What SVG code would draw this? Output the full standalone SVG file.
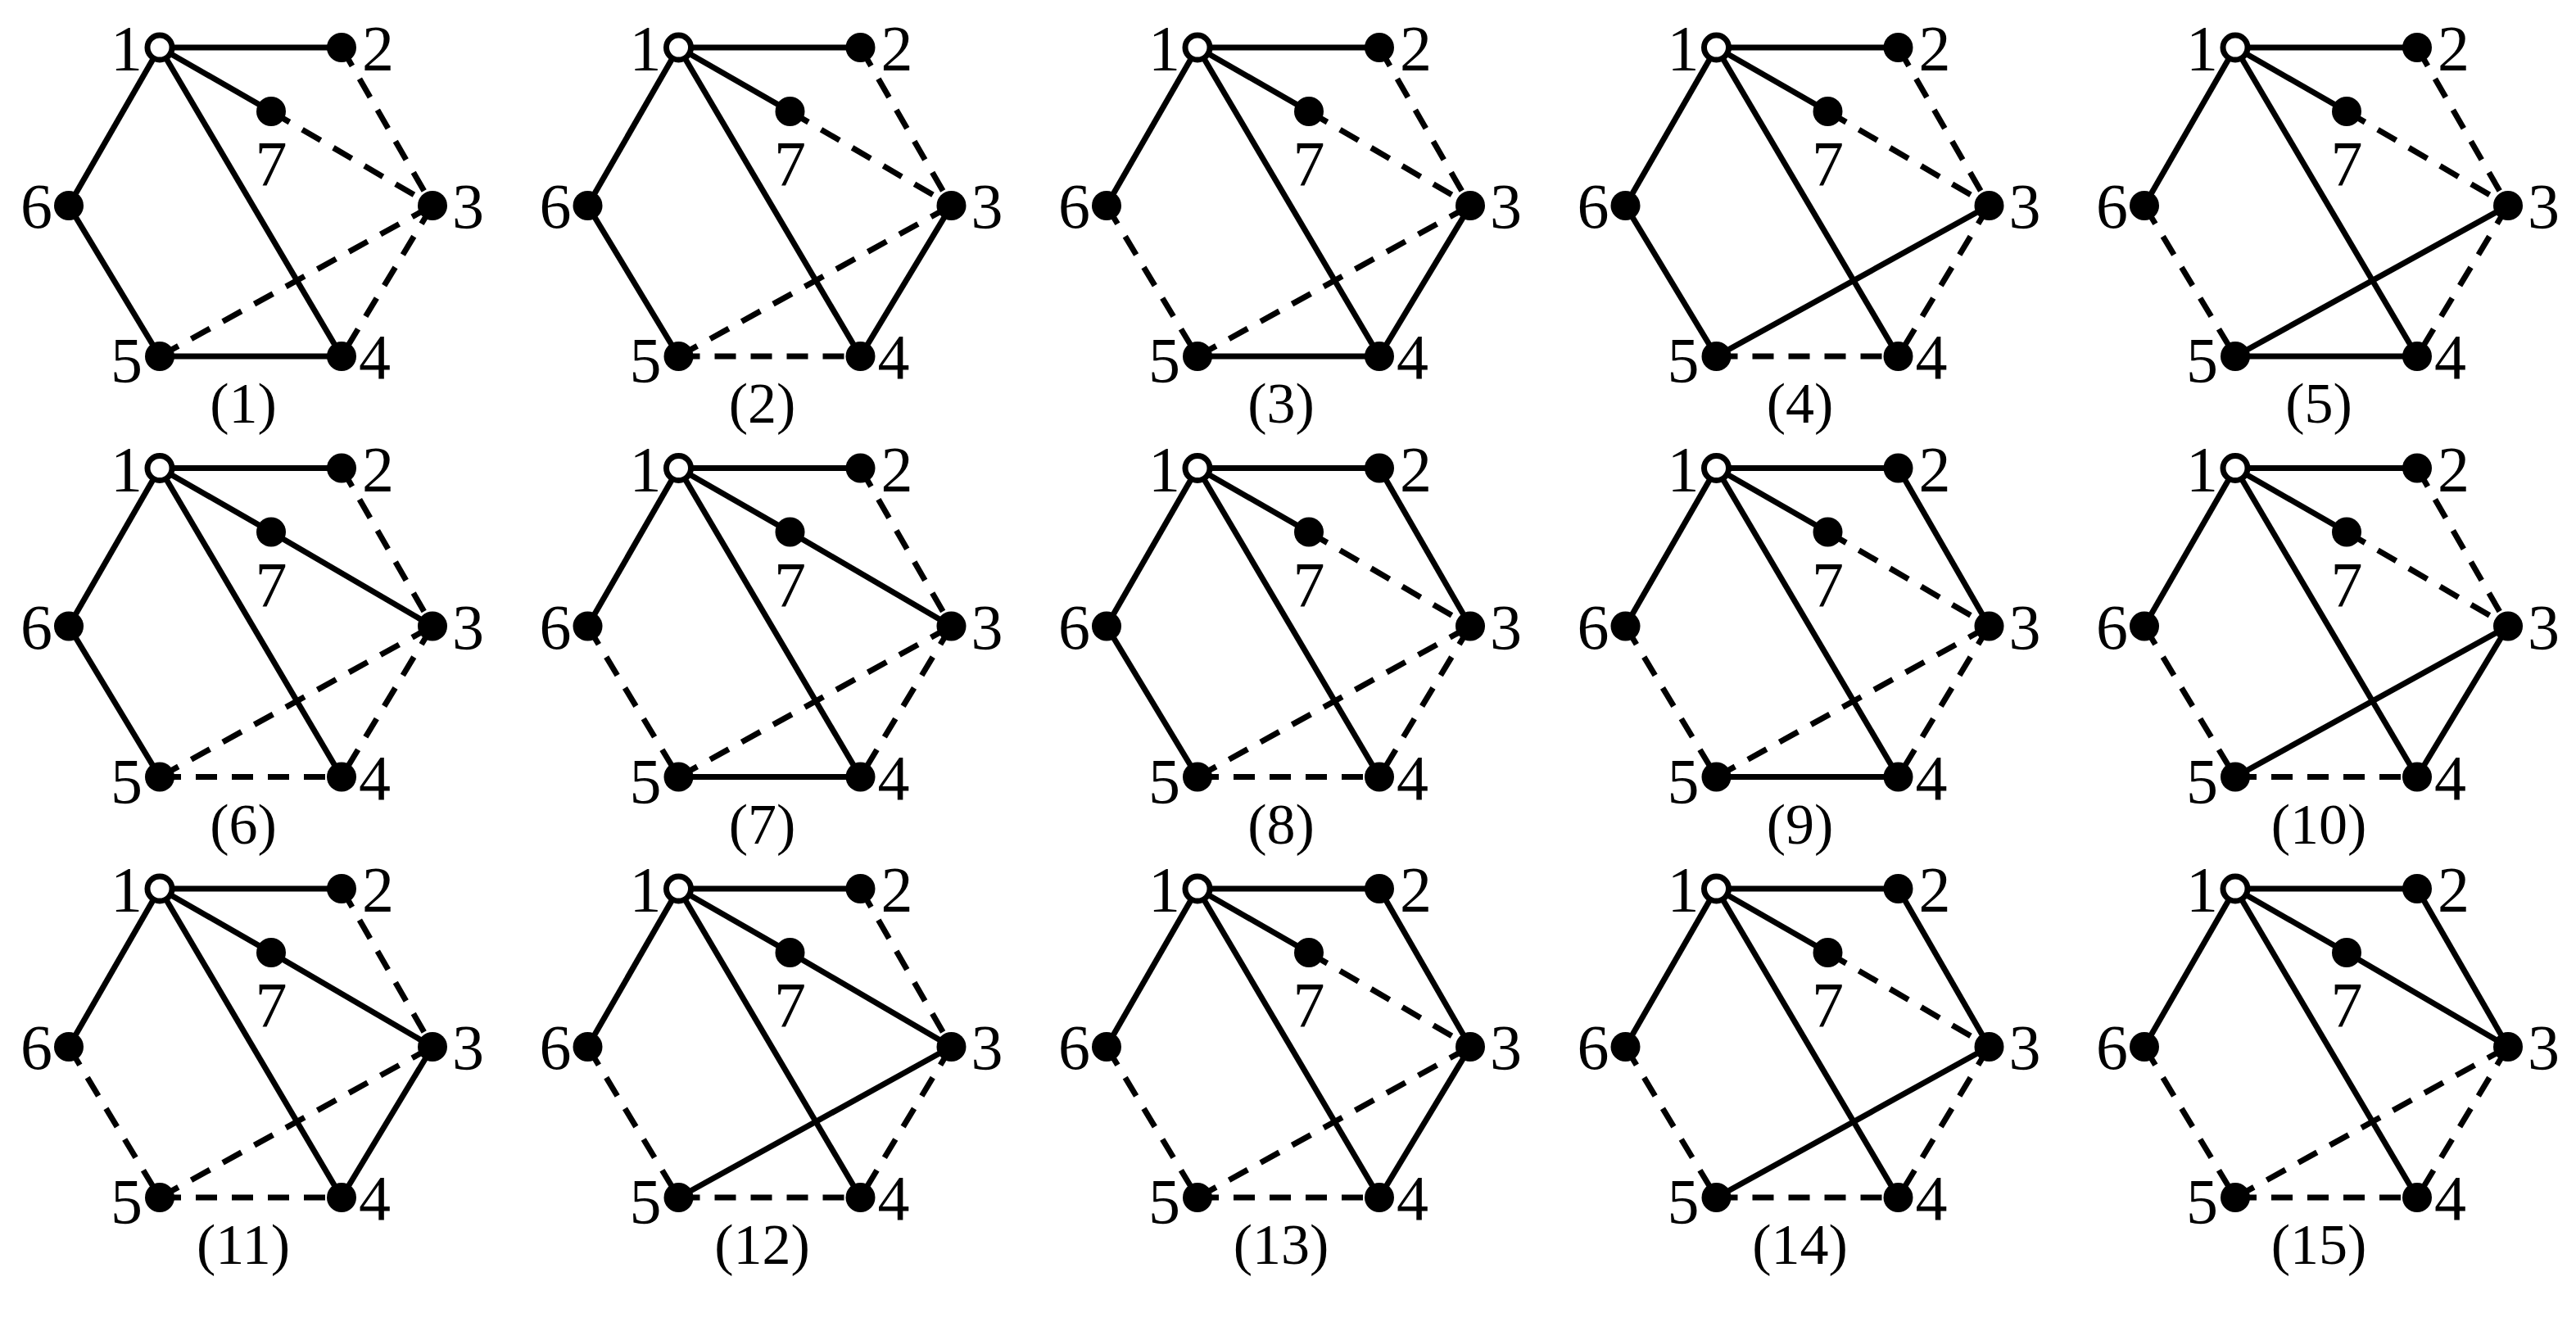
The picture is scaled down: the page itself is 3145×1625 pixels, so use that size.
<svg xmlns="http://www.w3.org/2000/svg" width="3145" height="1625" viewBox="0 0 3145 1625">
<style>
.s{stroke:#000;stroke-width:7;fill:none}
.d{stroke:#000;stroke-width:7;fill:none;stroke-dasharray:26 18}
.n{fill:#000}
.o{fill:#fff;stroke:#000;stroke-width:7}
text{font-family:"Liberation Serif","Times New Roman",serif;font-size:78px;fill:#000}
.c{font-size:70px;text-anchor:middle}
</style>
<defs>
<g id="nodes">
<circle class="o" cx="195" cy="58" r="15"/>
<circle class="n" cx="417" cy="58" r="18"/>
<circle class="n" cx="331" cy="136" r="18"/>
<circle class="n" cx="528" cy="251" r="18"/>
<circle class="n" cx="84" cy="251" r="18"/>
<circle class="n" cx="195" cy="435" r="18"/>
<circle class="n" cx="417" cy="435" r="18"/>
<text x="174" y="85" text-anchor="end">1</text>
<text x="442" y="85">2</text>
<text x="552" y="278">3</text>
<text x="438" y="462">4</text>
<text x="174" y="466" text-anchor="end">5</text>
<text x="64" y="278" text-anchor="end">6</text>
<text x="331" y="226" text-anchor="middle">7</text>
</g>
<g id="fixed">
<line class="s" x1="195" y1="58" x2="417" y2="58"/>
<line class="s" x1="195" y1="58" x2="331" y2="136"/>
<line class="s" x1="195" y1="58" x2="84" y2="251"/>
<line class="s" x1="195" y1="58" x2="417" y2="435"/>
</g>
</defs>
<g id="connectors">
<g transform="translate(0,0)"><use href="#fixed"/><line class="d" x1="417" y1="58" x2="528" y2="251"/><line class="d" x1="331" y1="136" x2="528" y2="251"/><line class="s" x1="84" y1="251" x2="195" y2="435"/><line class="s" x1="195" y1="435" x2="417" y2="435"/><line class="d" x1="195" y1="435" x2="528" y2="251"/><line class="d" x1="528" y1="251" x2="417" y2="435"/></g>
<g transform="translate(633.5,0)"><use href="#fixed"/><line class="d" x1="417" y1="58" x2="528" y2="251"/><line class="d" x1="331" y1="136" x2="528" y2="251"/><line class="s" x1="84" y1="251" x2="195" y2="435"/><line class="d" x1="195" y1="435" x2="417" y2="435"/><line class="d" x1="195" y1="435" x2="528" y2="251"/><line class="s" x1="528" y1="251" x2="417" y2="435"/></g>
<g transform="translate(1267,0)"><use href="#fixed"/><line class="d" x1="417" y1="58" x2="528" y2="251"/><line class="d" x1="331" y1="136" x2="528" y2="251"/><line class="d" x1="84" y1="251" x2="195" y2="435"/><line class="s" x1="195" y1="435" x2="417" y2="435"/><line class="d" x1="195" y1="435" x2="528" y2="251"/><line class="s" x1="528" y1="251" x2="417" y2="435"/></g>
<g transform="translate(1900.5,0)"><use href="#fixed"/><line class="d" x1="417" y1="58" x2="528" y2="251"/><line class="d" x1="331" y1="136" x2="528" y2="251"/><line class="s" x1="84" y1="251" x2="195" y2="435"/><line class="d" x1="195" y1="435" x2="417" y2="435"/><line class="s" x1="195" y1="435" x2="528" y2="251"/><line class="d" x1="528" y1="251" x2="417" y2="435"/></g>
<g transform="translate(2534,0)"><use href="#fixed"/><line class="d" x1="417" y1="58" x2="528" y2="251"/><line class="d" x1="331" y1="136" x2="528" y2="251"/><line class="d" x1="84" y1="251" x2="195" y2="435"/><line class="s" x1="195" y1="435" x2="417" y2="435"/><line class="s" x1="195" y1="435" x2="528" y2="251"/><line class="d" x1="528" y1="251" x2="417" y2="435"/></g>
<g transform="translate(0,513.5)"><use href="#fixed"/><line class="d" x1="417" y1="58" x2="528" y2="251"/><line class="s" x1="331" y1="136" x2="528" y2="251"/><line class="s" x1="84" y1="251" x2="195" y2="435"/><line class="d" x1="195" y1="435" x2="417" y2="435"/><line class="d" x1="195" y1="435" x2="528" y2="251"/><line class="d" x1="528" y1="251" x2="417" y2="435"/></g>
<g transform="translate(633.5,513.5)"><use href="#fixed"/><line class="d" x1="417" y1="58" x2="528" y2="251"/><line class="s" x1="331" y1="136" x2="528" y2="251"/><line class="d" x1="84" y1="251" x2="195" y2="435"/><line class="s" x1="195" y1="435" x2="417" y2="435"/><line class="d" x1="195" y1="435" x2="528" y2="251"/><line class="d" x1="528" y1="251" x2="417" y2="435"/></g>
<g transform="translate(1267,513.5)"><use href="#fixed"/><line class="s" x1="417" y1="58" x2="528" y2="251"/><line class="d" x1="331" y1="136" x2="528" y2="251"/><line class="s" x1="84" y1="251" x2="195" y2="435"/><line class="d" x1="195" y1="435" x2="417" y2="435"/><line class="d" x1="195" y1="435" x2="528" y2="251"/><line class="d" x1="528" y1="251" x2="417" y2="435"/></g>
<g transform="translate(1900.5,513.5)"><use href="#fixed"/><line class="s" x1="417" y1="58" x2="528" y2="251"/><line class="d" x1="331" y1="136" x2="528" y2="251"/><line class="d" x1="84" y1="251" x2="195" y2="435"/><line class="s" x1="195" y1="435" x2="417" y2="435"/><line class="d" x1="195" y1="435" x2="528" y2="251"/><line class="d" x1="528" y1="251" x2="417" y2="435"/></g>
<g transform="translate(2534,513.5)"><use href="#fixed"/><line class="d" x1="417" y1="58" x2="528" y2="251"/><line class="d" x1="331" y1="136" x2="528" y2="251"/><line class="d" x1="84" y1="251" x2="195" y2="435"/><line class="d" x1="195" y1="435" x2="417" y2="435"/><line class="s" x1="195" y1="435" x2="528" y2="251"/><line class="s" x1="528" y1="251" x2="417" y2="435"/></g>
<g transform="translate(0,1027)"><use href="#fixed"/><line class="d" x1="417" y1="58" x2="528" y2="251"/><line class="s" x1="331" y1="136" x2="528" y2="251"/><line class="d" x1="84" y1="251" x2="195" y2="435"/><line class="d" x1="195" y1="435" x2="417" y2="435"/><line class="d" x1="195" y1="435" x2="528" y2="251"/><line class="s" x1="528" y1="251" x2="417" y2="435"/></g>
<g transform="translate(633.5,1027)"><use href="#fixed"/><line class="d" x1="417" y1="58" x2="528" y2="251"/><line class="s" x1="331" y1="136" x2="528" y2="251"/><line class="d" x1="84" y1="251" x2="195" y2="435"/><line class="d" x1="195" y1="435" x2="417" y2="435"/><line class="s" x1="195" y1="435" x2="528" y2="251"/><line class="d" x1="528" y1="251" x2="417" y2="435"/></g>
<g transform="translate(1267,1027)"><use href="#fixed"/><line class="s" x1="417" y1="58" x2="528" y2="251"/><line class="d" x1="331" y1="136" x2="528" y2="251"/><line class="d" x1="84" y1="251" x2="195" y2="435"/><line class="d" x1="195" y1="435" x2="417" y2="435"/><line class="d" x1="195" y1="435" x2="528" y2="251"/><line class="s" x1="528" y1="251" x2="417" y2="435"/></g>
<g transform="translate(1900.5,1027)"><use href="#fixed"/><line class="s" x1="417" y1="58" x2="528" y2="251"/><line class="d" x1="331" y1="136" x2="528" y2="251"/><line class="d" x1="84" y1="251" x2="195" y2="435"/><line class="d" x1="195" y1="435" x2="417" y2="435"/><line class="s" x1="195" y1="435" x2="528" y2="251"/><line class="d" x1="528" y1="251" x2="417" y2="435"/></g>
<g transform="translate(2534,1027)"><use href="#fixed"/><line class="s" x1="417" y1="58" x2="528" y2="251"/><line class="s" x1="331" y1="136" x2="528" y2="251"/><line class="d" x1="84" y1="251" x2="195" y2="435"/><line class="d" x1="195" y1="435" x2="417" y2="435"/><line class="d" x1="195" y1="435" x2="528" y2="251"/><line class="d" x1="528" y1="251" x2="417" y2="435"/></g>
</g>
<g id="p1" transform="translate(0,0)"><use href="#nodes"/><text class="c" x="297" y="516">(1)</text></g>
<g id="p2" transform="translate(633.5,0)"><use href="#nodes"/><text class="c" x="297" y="516">(2)</text></g>
<g id="p3" transform="translate(1267,0)"><use href="#nodes"/><text class="c" x="297" y="516">(3)</text></g>
<g id="p4" transform="translate(1900.5,0)"><use href="#nodes"/><text class="c" x="297" y="516">(4)</text></g>
<g id="p5" transform="translate(2534,0)"><use href="#nodes"/><text class="c" x="297" y="516">(5)</text></g>
<g id="p6" transform="translate(0,513.5)"><use href="#nodes"/><text class="c" x="297" y="516">(6)</text></g>
<g id="p7" transform="translate(633.5,513.5)"><use href="#nodes"/><text class="c" x="297" y="516">(7)</text></g>
<g id="p8" transform="translate(1267,513.5)"><use href="#nodes"/><text class="c" x="297" y="516">(8)</text></g>
<g id="p9" transform="translate(1900.5,513.5)"><use href="#nodes"/><text class="c" x="297" y="516">(9)</text></g>
<g id="p10" transform="translate(2534,513.5)"><use href="#nodes"/><text class="c" x="297" y="516">(10)</text></g>
<g id="p11" transform="translate(0,1027)"><use href="#nodes"/><text class="c" x="297" y="516">(11)</text></g>
<g id="p12" transform="translate(633.5,1027)"><use href="#nodes"/><text class="c" x="297" y="516">(12)</text></g>
<g id="p13" transform="translate(1267,1027)"><use href="#nodes"/><text class="c" x="297" y="516">(13)</text></g>
<g id="p14" transform="translate(1900.5,1027)"><use href="#nodes"/><text class="c" x="297" y="516">(14)</text></g>
<g id="p15" transform="translate(2534,1027)"><use href="#nodes"/><text class="c" x="297" y="516">(15)</text></g>
</svg>
